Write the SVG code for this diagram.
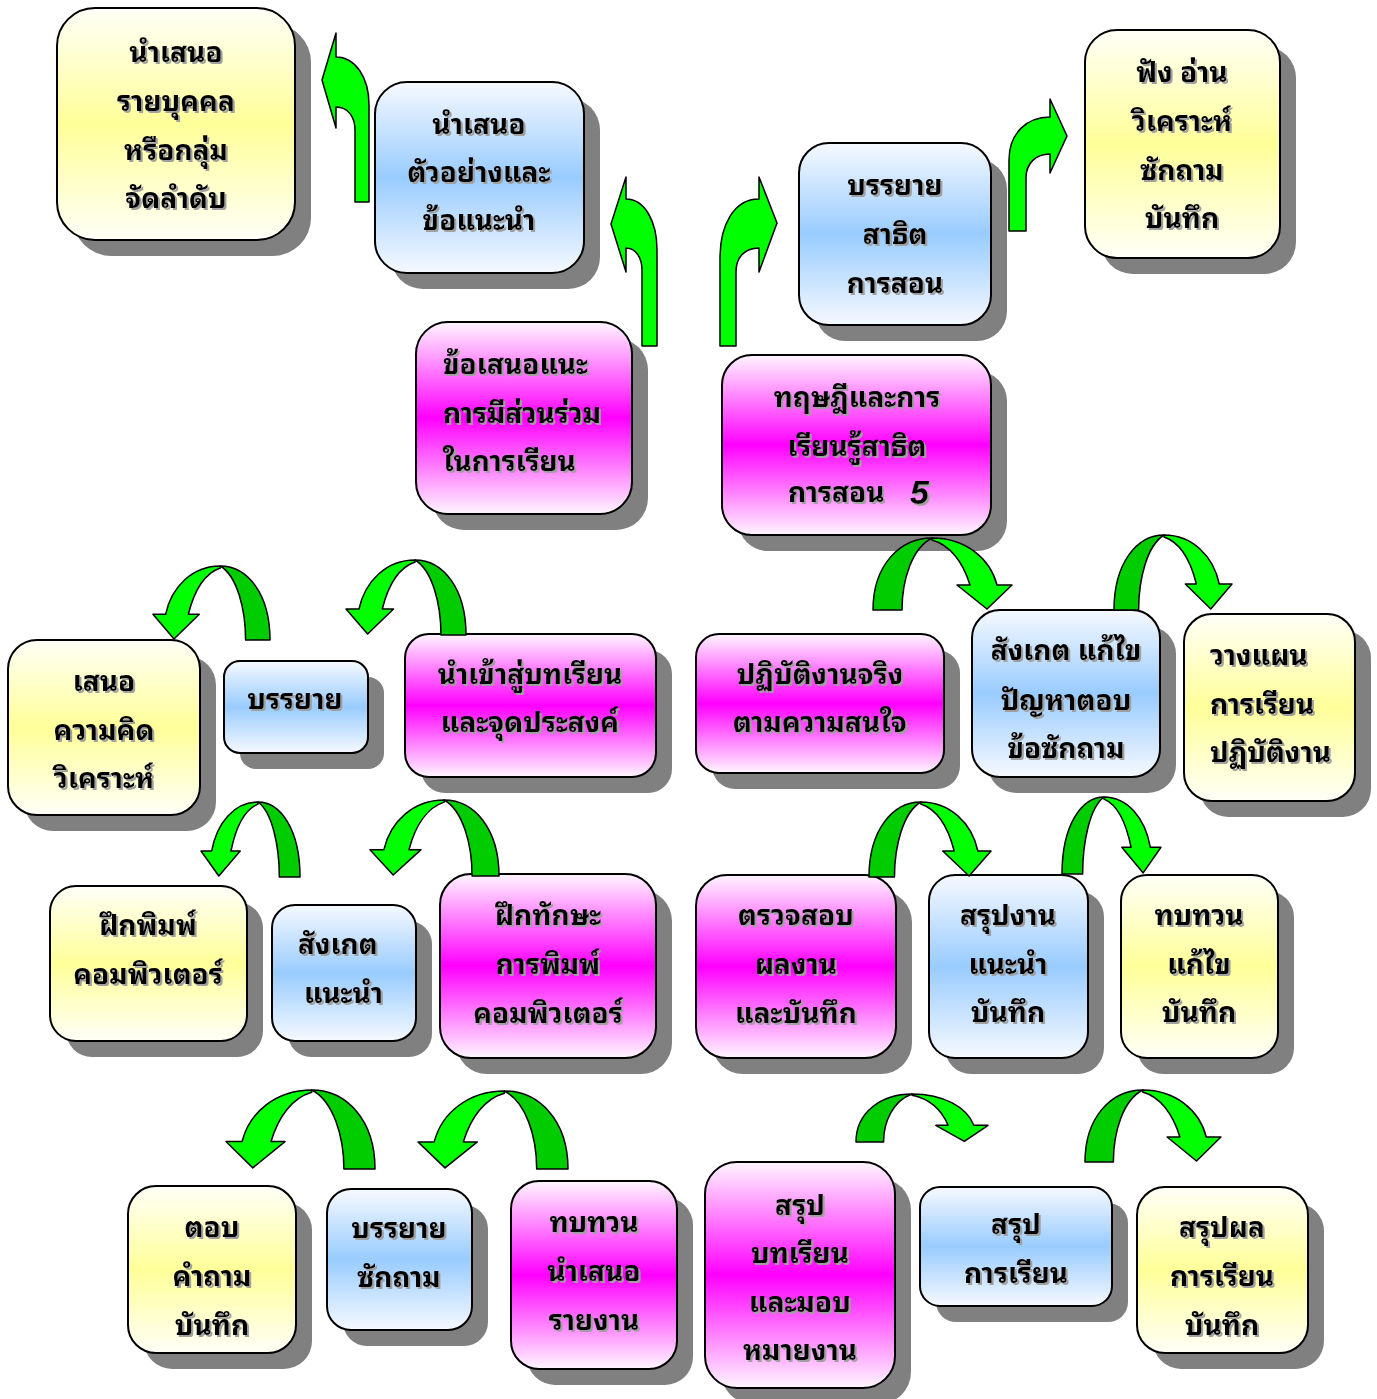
<svg xmlns="http://www.w3.org/2000/svg" xmlns:xlink="http://www.w3.org/1999/xlink" width="1377" height="1399" viewBox="0 0 1377 1399">
<style>
.sh{fill:#808080}
.bx{stroke:#000;stroke-width:2}
.y{fill:url(#gy)}
.b{fill:url(#gb)}
.m{fill:url(#gm)}
text{font-family:"Noto Sans Thai Looped","Noto Serif Thai","Loma","Garuda","Noto Sans Thai","Noto Sans","DejaVu Sans",sans-serif;font-size:28px;font-weight:bold;fill:#000;filter:url(#ts)}
.c{text-anchor:middle}
.s{text-anchor:start}
.dk{fill:#00CC00;stroke:#000;stroke-width:1.5;vector-effect:non-scaling-stroke;stroke-linejoin:round}
.lt{fill:#00FF00;stroke:#000;stroke-width:1.5;vector-effect:non-scaling-stroke;stroke-linejoin:round}
</style>
<defs>
<linearGradient id="gy" x1="0" y1="0" x2="0" y2="1"><stop offset="0" stop-color="#FFFFF8"/><stop offset="0.5" stop-color="#FFFF99"/><stop offset="1" stop-color="#FFFFF8"/></linearGradient>
<linearGradient id="gb" x1="0" y1="0" x2="0" y2="1"><stop offset="0" stop-color="#F6F9FF"/><stop offset="0.5" stop-color="#99CCFF"/><stop offset="1" stop-color="#F6F9FF"/></linearGradient>
<linearGradient id="gm" x1="0" y1="0" x2="0" y2="1"><stop offset="0" stop-color="#FFF6FF"/><stop offset="0.5" stop-color="#FF00FF"/><stop offset="1" stop-color="#FFF6FF"/></linearGradient>
<filter id="ts" x="-5%" y="-20%" width="115%" height="150%"><feDropShadow dx="2" dy="2" stdDeviation="0.3" flood-color="#A0A0A0" flood-opacity="1"/></filter>
<g id="ca">
<path class="dk" d="M0,72 C0,27 27,0 59,0 C39,10 29,42 29,72 Z"/>
<path class="lt" d="M59,0 C92,0 117,20 124,47 L139,47 L114,71 L84,47 L97,47 C90,24 77,7 59,2 Z"/>
</g>
</defs>
<rect width="1377" height="1399" fill="#fff"/>

<g id="nodeA"><rect class="sh" x="73" y="24" width="238" height="232" rx="38"/><rect class="bx y" x="57" y="8" width="238" height="232" rx="38"/>
<text class="c" x="176" y="62">นำเสนอ</text><text class="c" x="176" y="111">รายบุคคล</text><text class="c" x="176" y="160">หรือกลุ่ม</text><text class="c" x="176" y="208">จัดลำดับ</text></g>

<g id="nodeB"><rect class="sh" x="391" y="98" width="209" height="191" rx="32"/><rect class="bx b" x="375" y="82" width="209" height="191" rx="32"/>
<text class="c" x="479" y="134">นำเสนอ</text><text class="c" x="479" y="182">ตัวอย่างและ</text><text class="c" x="479" y="230">ข้อแนะนำ</text></g>

<g id="nodeC"><rect class="sh" x="815" y="159" width="192" height="182" rx="30"/><rect class="bx b" x="799" y="143" width="192" height="182" rx="30"/>
<text class="c" x="895" y="195">บรรยาย</text><text class="c" x="895" y="244">สาธิต</text><text class="c" x="895" y="293">การสอน</text></g>

<g id="nodeD"><rect class="sh" x="1101" y="46" width="195" height="228" rx="32"/><rect class="bx y" x="1085" y="30" width="195" height="228" rx="32"/>
<text class="c" x="1182" y="82">ฟัง อ่าน</text><text class="c" x="1182" y="131">วิเคราะห์</text><text class="c" x="1182" y="180">ซักถาม</text><text class="c" x="1182" y="228">บันทึก</text></g>

<g id="nodeE"><rect class="sh" x="432" y="338" width="216" height="192" rx="32"/><rect class="bx m" x="416" y="322" width="216" height="192" rx="32"/>
<text class="s" x="443" y="374">ข้อเสนอแนะ</text><text class="s" x="443" y="423">การมีส่วนร่วม</text><text class="s" x="443" y="471">ในการเรียน</text></g>

<g id="nodeF"><rect class="sh" x="738" y="371" width="269" height="180" rx="30"/><rect class="bx m" x="722" y="355" width="269" height="180" rx="30"/>
<text class="c" x="857" y="407">ทฤษฎีและการ</text><text class="c" x="857" y="456">เรียนรู้สาธิต</text><text class="s" x="788" y="502">การสอน</text><text class="s" x="910" y="504" style="font-family:'Liberation Sans',sans-serif;font-style:italic;font-size:34px">5</text></g>

<g id="nodeG"><rect class="sh" x="24" y="656" width="192" height="175" rx="29"/><rect class="bx y" x="8" y="640" width="192" height="175" rx="29"/>
<text class="c" x="104" y="691">เสนอ</text><text class="c" x="104" y="740">ความคิด</text><text class="c" x="104" y="788">วิเคราะห์</text></g>

<g id="nodeH"><rect class="sh" x="240" y="677" width="144" height="92" rx="16"/><rect class="bx b" x="224" y="661" width="144" height="92" rx="16"/>
<text class="c" x="295" y="709">บรรยาย</text></g>

<g id="nodeI"><rect class="sh" x="421" y="650" width="251" height="143" rx="24"/><rect class="bx m" x="405" y="634" width="251" height="143" rx="24"/>
<text class="c" x="530" y="684">นำเข้าสู่บทเรียน</text><text class="c" x="530" y="732">และจุดประสงค์</text></g>

<g id="nodeJ"><rect class="sh" x="712" y="650" width="248" height="139" rx="23"/><rect class="bx m" x="696" y="634" width="248" height="139" rx="23"/>
<text class="c" x="820" y="684">ปฏิบัติงานจริง</text><text class="c" x="820" y="732">ตามความสนใจ</text></g>

<g id="nodeK"><rect class="sh" x="988" y="626" width="188" height="167" rx="28"/><rect class="bx b" x="972" y="610" width="188" height="167" rx="28"/>
<text class="c" x="1066" y="660">สังเกต แก้ไข</text><text class="c" x="1066" y="710">ปัญหาตอบ</text><text class="c" x="1066" y="758">ข้อซักถาม</text></g>

<g id="nodeL"><rect class="sh" x="1200" y="630" width="171" height="187" rx="28"/><rect class="bx y" x="1184" y="614" width="171" height="187" rx="28"/>
<text class="s" x="1210" y="665">วางแผน</text><text class="s" x="1210" y="714">การเรียน</text><text class="s" x="1210" y="762">ปฏิบัติงาน</text></g>

<g id="nodeM"><rect class="sh" x="66" y="902" width="197" height="155" rx="26"/><rect class="bx y" x="50" y="886" width="197" height="155" rx="26"/>
<text class="c" x="148" y="935">ฝึกพิมพ์</text><text class="c" x="148" y="984">คอมพิวเตอร์</text></g>

<g id="nodeN"><rect class="sh" x="288" y="921" width="144" height="136" rx="23"/><rect class="bx b" x="272" y="905" width="144" height="136" rx="23"/>
<text class="s" x="298" y="954">สังเกต</text><text class="s" x="304" y="1003">แนะนำ</text></g>

<g id="nodeO"><rect class="sh" x="456" y="890" width="216" height="184" rx="31"/><rect class="bx m" x="440" y="874" width="216" height="184" rx="31"/>
<text class="c" x="548" y="925">ฝึกทักษะ</text><text class="c" x="548" y="974">การพิมพ์</text><text class="c" x="548" y="1023">คอมพิวเตอร์</text></g>

<g id="nodeP"><rect class="sh" x="712" y="891" width="200" height="183" rx="31"/><rect class="bx m" x="696" y="875" width="200" height="183" rx="31"/>
<text class="c" x="796" y="925">ตรวจสอบ</text><text class="c" x="796" y="974">ผลงาน</text><text class="c" x="796" y="1023">และบันทึก</text></g>

<g id="nodeQ"><rect class="sh" x="945" y="891" width="159" height="183" rx="26"/><rect class="bx b" x="929" y="875" width="159" height="183" rx="26"/>
<text class="c" x="1008" y="925">สรุปงาน</text><text class="c" x="1008" y="974">แนะนำ</text><text class="c" x="1008" y="1022">บันทึก</text></g>

<g id="nodeR"><rect class="sh" x="1137" y="891" width="157" height="183" rx="26"/><rect class="bx y" x="1121" y="875" width="157" height="183" rx="26"/>
<text class="c" x="1199" y="925">ทบทวน</text><text class="c" x="1199" y="974">แก้ไข</text><text class="c" x="1199" y="1022">บันทึก</text></g>

<g id="nodeS"><rect class="sh" x="144" y="1202" width="168" height="167" rx="28"/><rect class="bx y" x="128" y="1186" width="168" height="167" rx="28"/>
<text class="c" x="212" y="1237">ตอบ</text><text class="c" x="212" y="1286">คำถาม</text><text class="c" x="212" y="1335">บันทึก</text></g>

<g id="nodeT"><rect class="sh" x="343" y="1205" width="145" height="141" rx="24"/><rect class="bx b" x="327" y="1189" width="145" height="141" rx="24"/>
<text class="c" x="399" y="1238">บรรยาย</text><text class="c" x="399" y="1287">ซักถาม</text></g>

<g id="nodeU"><rect class="sh" x="527" y="1197" width="166" height="188" rx="28"/><rect class="bx m" x="511" y="1181" width="166" height="188" rx="28"/>
<text class="c" x="594" y="1232">ทบทวน</text><text class="c" x="594" y="1281">นำเสนอ</text><text class="c" x="594" y="1330">รายงาน</text></g>

<g id="nodeV"><rect class="sh" x="721" y="1178" width="190" height="226" rx="32"/><rect class="bx m" x="705" y="1162" width="190" height="226" rx="32"/>
<text class="c" x="800" y="1215">สรุป</text><text class="c" x="800" y="1263">บทเรียน</text><text class="c" x="800" y="1312">และมอบ</text><text class="c" x="800" y="1360">หมายงาน</text></g>

<g id="nodeW"><rect class="sh" x="936" y="1203" width="192" height="119" rx="20"/><rect class="bx b" x="920" y="1187" width="192" height="119" rx="20"/>
<text class="c" x="1016" y="1234">สรุป</text><text class="c" x="1016" y="1283">การเรียน</text></g>

<g id="nodeX"><rect class="sh" x="1153" y="1203" width="171" height="166" rx="28"/><rect class="bx y" x="1137" y="1187" width="171" height="166" rx="28"/>
<text class="c" x="1222" y="1237">สรุปผล</text><text class="c" x="1222" y="1286">การเรียน</text><text class="c" x="1222" y="1335">บันทึก</text></g>

<g id="connectors">
<path class="lt" d="M369,202 L369,105 C369,77 355,57 336,57 L336,33 L322,80 L336,128 L336,107 C348,107 355,117 355,130 L355,202 Z"/>
<path class="lt" d="M657,346 L657,250 C657,222 645,199 626,199 L626,177 L611,224 L626,272 L626,248 C636,248 642,258 642,270 L642,346 Z"/>
<path class="lt" d="M720,346 L720,258 C720,225 734,199 759,199 L759,177 L777,223 L759,272 L759,248 C744,248 736,258 736,272 L736,346 Z"/>
<path class="lt" d="M1009,231 L1009,160 C1009,133 1027,117 1050,117 L1050,99 L1067,136 L1050,173 L1050,154 C1036,154 1026,163 1026,178 L1026,231 Z"/>
<use xlink:href="#ca" transform="translate(270,566) scale(-0.842,1.028)"/>
<use xlink:href="#ca" transform="translate(466,560) scale(-0.863,1.042)"/>
<use xlink:href="#ca" transform="translate(873,538)"/>
<use xlink:href="#ca" transform="translate(1114,535) scale(0.849,1.042)"/>
<use xlink:href="#ca" transform="translate(300,802) scale(-0.712,1.042)"/>
<use xlink:href="#ca" transform="translate(499,800) scale(-0.928,1.056)"/>
<use xlink:href="#ca" transform="translate(869,802) scale(0.878,1.042)"/>
<use xlink:href="#ca" transform="translate(1062,797) scale(0.712,1.069)"/>
<use xlink:href="#ca" transform="translate(375,1090) scale(-1.072,1.097)"/>
<use xlink:href="#ca" transform="translate(568,1091) scale(-1.079,1.083)"/>
<use xlink:href="#ca" transform="translate(856,1094) scale(0.95,0.667)"/>
<use xlink:href="#ca" transform="translate(1085,1090) scale(0.978,1)"/>
</g>
</svg>
